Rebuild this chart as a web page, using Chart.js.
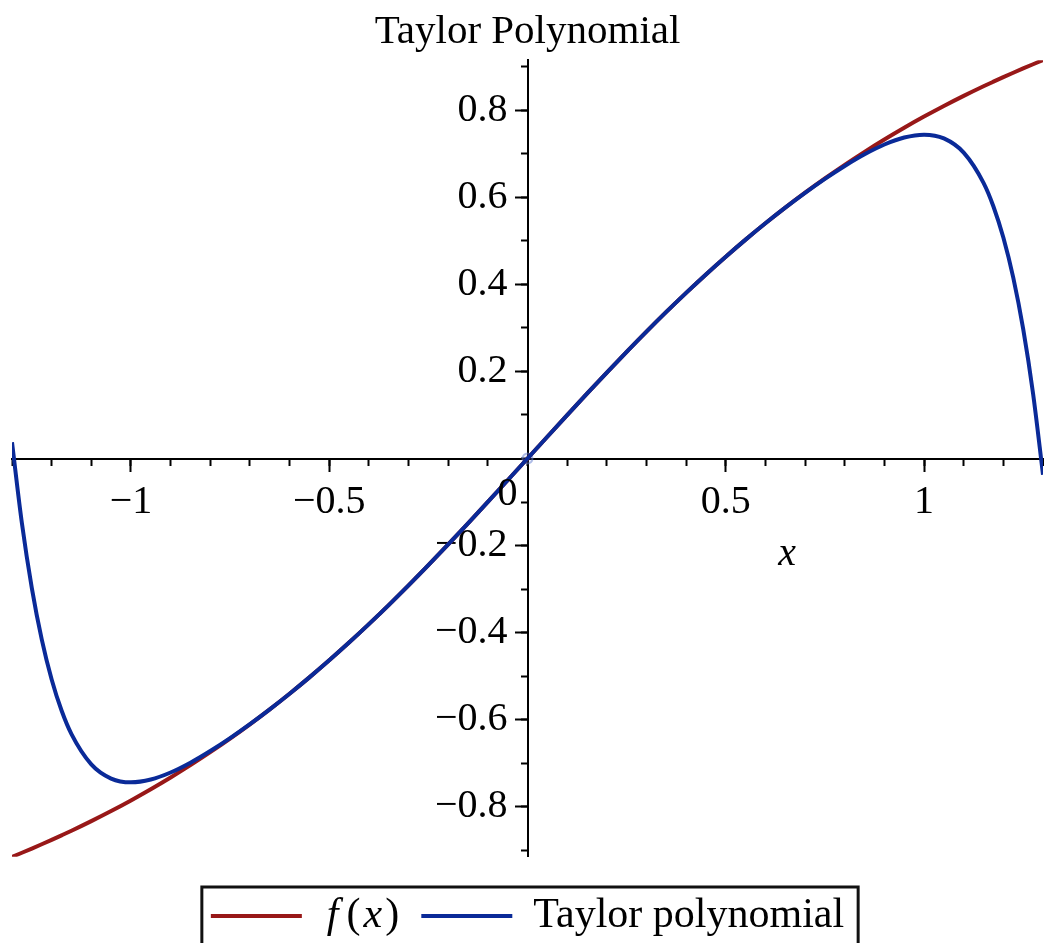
<!DOCTYPE html>
<html>
<head>
<meta charset="utf-8">
<title>Taylor Polynomial</title>
<script src="https://cdn.jsdelivr.net/npm/chart.js@4/dist/chart.umd.min.js"></script>
<style>
  html, body { margin: 0; padding: 0; background: #fff; }
  #wrap { width: 1044px; height: 943px; }
</style>
</head>
<body>
<div id="wrap"><canvas id="plot" width="1044" height="943"></canvas></div>
<script>
// Sample points
const xValues = [
  -1.3, -1.275, -1.25, -1.225, -1.2, -1.175, -1.15, -1.1, -1.05, -1.0,
  -0.95, -0.9, -0.85, -0.8, -0.75, -0.7, -0.65, -0.6, -0.55, -0.5,
  -0.45, -0.4, -0.35, -0.3, -0.25, -0.2, -0.15, -0.1, -0.05, 0,
  0.05, 0.1, 0.15, 0.2, 0.25, 0.3, 0.35, 0.4, 0.45, 0.5,
  0.55, 0.6, 0.65, 0.7, 0.75, 0.8, 0.85, 0.9, 0.95, 1.0,
  1.05, 1.1, 1.15, 1.175, 1.2, 1.225, 1.25, 1.275, 1.3,
];

const fValues = [
  -0.9151, -0.9057, -0.8961, -0.8862, -0.8761, -0.8657, -0.8551, -0.8330, -0.8098, -0.7854,
  -0.7598, -0.7328, -0.7045, -0.6747, -0.6435, -0.6107, -0.5764, -0.5404, -0.5028, -0.4636,
  -0.4229, -0.3805, -0.3367, -0.2915, -0.2450, -0.1974, -0.1489, -0.0997, -0.0500, 0,
  0.0500, 0.0997, 0.1489, 0.1974, 0.2450, 0.2915, 0.3367, 0.3805, 0.4229, 0.4636,
  0.5028, 0.5404, 0.5764, 0.6107, 0.6435, 0.6747, 0.7045, 0.7328, 0.7598, 0.7854,
  0.8098, 0.8330, 0.8551, 0.8657, 0.8761, 0.8862, 0.8961, 0.9057, 0.9151,
];

const taylorValues = [
  0.0371, -0.1489, -0.2976, -0.4154, -0.5076, -0.5790, -0.6332, -0.7027, -0.7353, -0.7440,
  -0.7375, -0.7213, -0.6988, -0.6720, -0.6423, -0.6102, -0.5762, -0.5403, -0.5028, -0.4636,
  -0.4229, -0.3805, -0.3367, -0.2915, -0.2450, -0.1974, -0.1489, -0.0997, -0.0500, 0,
  0.0500, 0.0997, 0.1489, 0.1974, 0.2450, 0.2915, 0.3367, 0.3805, 0.4229, 0.4636,
  0.5028, 0.5403, 0.5762, 0.6102, 0.6423, 0.6720, 0.6988, 0.7213, 0.7375, 0.7440,
  0.7353, 0.7027, 0.6332, 0.5790, 0.5076, 0.4154, 0.2976, 0.1489, -0.0371,
];

// expansion point marker
const centerX = [0];
const centerY = [0];

// labelled tick values (0 is written separately next to the origin)
const xMajorTicks = [-1, -0.5, 0.5, 1];
const yMajorTicks = [-0.8, -0.6, -0.4, -0.2, 0.2, 0.4, 0.6, 0.8];

const RED = '#981818';
const BLUE = '#0a2a98';
const SERIF = "'Liberation Serif', 'Times New Roman', serif";

Chart.defaults.font.family = SERIF;
Chart.defaults.color = '#000';

const fmt = v => (v < 0 ? '\u2212' : '') + Math.abs(v);

// box round the legend, italic f(x), the origin "0" and the x axis name
const decorations = {
  id: 'decorations',
  afterDraw(chart) {
    const { ctx, legend } = chart;
    const xs = chart.scales.x;
    const ys = chart.scales.y;
    const ox = xs.getPixelForValue(0);
    const oy = ys.getPixelForValue(0);
    ctx.save();
    ctx.fillStyle = '#000';

    ctx.font = `40px ${SERIF}`;
    ctx.textAlign = 'center';
    ctx.textBaseline = 'middle';
    ctx.fillText('0', ox - 20, oy + 36);

    ctx.font = `italic 40px ${SERIF}`;
    ctx.textBaseline = 'alphabetic';
    ctx.fillText('x', xs.getPixelForValue(0.655), oy + 106);

    const boxes = legend.legendHitBoxes;
    if (boxes && boxes.length) {
      const first = boxes[0];
      const last = boxes[boxes.length - 1];
      ctx.strokeStyle = '#111';
      ctx.lineWidth = 3;
      const left = first.left - 9;
      ctx.strokeRect(left, first.top - 8, last.left + last.width + 14 - left, 200);

      // f(x) with italic letters
      let tx = first.left + 91 + 25;
      const ty = first.top + first.height / 2;
      ctx.textAlign = 'left';
      ctx.textBaseline = 'middle';
      const parts = [['f', 'italic', 8], ['(', 'normal', 3], ['x', 'italic', 3], [')', 'normal', 0]];
      parts.forEach(([s, style, gap]) => {
        ctx.font = `${style} 42px ${SERIF}`;
        ctx.fillText(s, tx, ty);
        tx += ctx.measureText(s).width + gap;
      });
    }
    ctx.restore();
  },
};

const tickGrid = len => ({
  drawOnChartArea: false,
  drawTicks: true,
  tickLength: len,
  tickWidth: 2,
  tickColor: '#000',
});

new Chart(document.getElementById('plot'), {
  type: 'line',
  data: {
    datasets: [
      {
        label: 'f(x)',
        data: xValues.map((x, i) => ({ x, y: fValues[i] })),
        borderColor: RED,
        backgroundColor: RED,
        borderWidth: 4,
        pointRadius: 0,
        cubicInterpolationMode: 'monotone',
        fill: false,
        order: 2,
      },
      {
        label: 'Taylor polynomial',
        data: xValues.map((x, i) => ({ x, y: taylorValues[i] })),
        borderColor: BLUE,
        backgroundColor: BLUE,
        borderWidth: 4,
        pointRadius: 0,
        cubicInterpolationMode: 'monotone',
        fill: false,
        order: 1,
      },
      {
        label: 'center',
        data: centerX.map((x, i) => ({ x, y: centerY[i] })),
        showLine: false,
        pointRadius: 5,
        borderWidth: 2,
        borderColor: 'rgba(100,125,210,0.5)',
        backgroundColor: 'rgba(100,125,210,0.15)',
        order: 3,
      },
    ],
  },
  options: {
    responsive: false,
    animation: false,
    layout: { autoPadding: false, padding: { left: 12, right: 1, top: 0, bottom: -4 } },
    scales: {
      x: {
        type: 'linear',
        min: -1.3,
        max: 1.3,
        position: { y: 0 },
        afterBuildTicks: s => { s.ticks = xMajorTicks.map(v => ({ value: v })); },
        ticks: { autoSkip: false, maxRotation: 0, padding: 8, font: { size: 40 }, callback: v => fmt(v) },
        grid: tickGrid(12),
        border: { color: '#000', width: 2 },
      },
      xMinor: {
        type: 'linear',
        min: -1.3,
        max: 1.3,
        position: { y: 0 },
        ticks: { stepSize: 0.1, includeBounds: false, autoSkip: false, maxRotation: 0, padding: 0, callback: () => '' },
        grid: tickGrid(7),
        border: { display: false },
      },
      y: {
        type: 'linear',
        min: -0.915,
        max: 0.915,
        position: { x: 0 },
        afterBuildTicks: s => { s.ticks = yMajorTicks.map(v => ({ value: v })); },
        // labels sit at the axis line, the en space keeps them clear of the ticks
        ticks: { autoSkip: false, padding: 0, font: { size: 40 }, callback: v => fmt(v) + '\u2002' },
        grid: tickGrid(12),
        border: { color: '#000', width: 2 },
      },
      yMinor: {
        type: 'linear',
        min: -0.915,
        max: 0.915,
        position: { x: 0 },
        ticks: { stepSize: 0.1, includeBounds: false, autoSkip: false, padding: 0, callback: () => '' },
        grid: tickGrid(7),
        border: { display: false },
      },
    },
    plugins: {
      title: {
        display: true,
        text: 'Taylor Polynomial',
        color: '#000',
        font: { size: 41, weight: 'normal' },
        padding: { top: 8, bottom: 3 },
      },
      legend: {
        position: 'bottom',
        // empty legend title only keeps a gap between plot and legend
        title: { display: true, text: ' ', font: { size: 1 }, padding: 6 },
        labels: {
          usePointStyle: true,
          pointStyle: 'line',
          pointStyleWidth: 91,
          font: { size: 42 },
          padding: 25,
          color: '#000',
          filter: item => item.datasetIndex < 2,
          sort: (a, b) => a.datasetIndex - b.datasetIndex,
          generateLabels: chart => {
            const items = Chart.defaults.plugins.legend.labels.generateLabels(chart);
            items.forEach(it => {
              if (it.datasetIndex === 0) {
                it.text = 'f (x)';
                it.fontColor = 'rgba(0,0,0,0)';
              }
            });
            return items;
          },
        },
      },
      tooltip: { enabled: false },
    },
  },
  plugins: [decorations],
});
</script>
</body>
</html>
